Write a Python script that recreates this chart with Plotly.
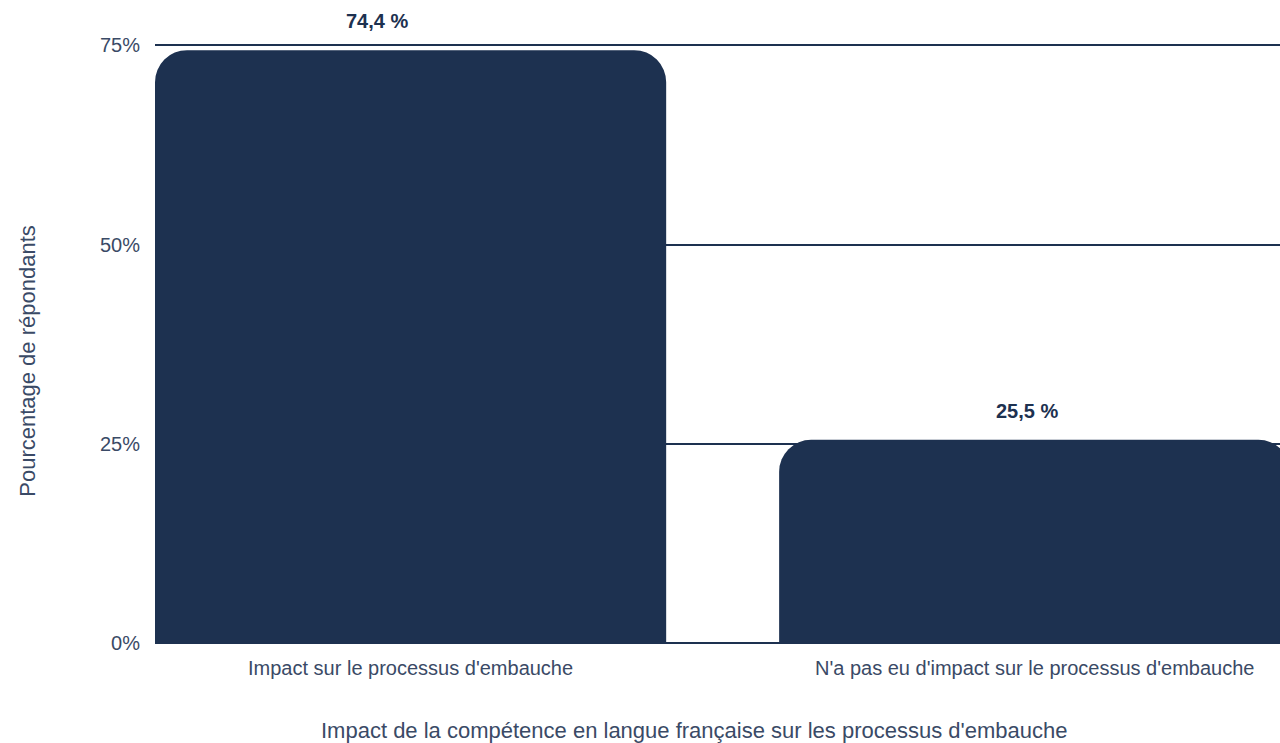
import plotly.graph_objects as go

# Survey results: impact of French-language proficiency on hiring
categories = ["Impact sur le processus d'embauche",
              "N'a pas eu d'impact sur le processus d'embauche"]
values = [74.4, 25.5]
y_ticks = [0, 25, 50, 75]
y_tick_labels = ["0%", "25%", "50%", "75%"]

NAVY = "#1d3150"
TICK_COLOR = "#3a4a66"
FONT = "Liberation Sans, Arial, sans-serif"

fig = go.Figure()
fig.add_trace(go.Bar(
    x=[0, 1],
    y=values,
    width=0.819,
    marker=dict(color=NAVY, line=dict(width=0)),
    hoverinfo="skip",
))

# value labels above each bar, French decimal comma
label_xshift = [-34, -8]
for i, v in enumerate(values):
    fig.add_annotation(
        x=i, y=v, xref="x", yref="y",
        text=f"{v:.1f} %".replace(".", ","),
        showarrow=False, yanchor="bottom", yshift=16, xshift=label_xshift[i],
        font=dict(family=FONT, size=20, color=NAVY, weight="bold"),
    )

# axis titles
fig.add_annotation(
    x=(694 - 155) / 1125, y=-0.145, xref="paper", yref="paper",
    text="Impact de la compétence en langue française sur les processus d'embauche",
    showarrow=False, xanchor="center", yanchor="middle",
    font=dict(family=FONT, size=22, color=TICK_COLOR),
)
fig.add_annotation(
    x=-0.114, y=0.47, xref="paper", yref="paper",
    text="Pourcentage de répondants", textangle=-90,
    showarrow=False, xanchor="center", yanchor="middle",
    font=dict(family=FONT, size=22, color=TICK_COLOR),
)

fig.update_layout(
    width=1280, height=743,
    margin=dict(l=155, r=0, t=43, b=100),
    paper_bgcolor="white", plot_bgcolor="white",
    barcornerradius=32,
    showlegend=False,
    font=dict(family=FONT, size=20, color=TICK_COLOR),
    xaxis=dict(
        range=[-0.4095, 1.393],
        tickmode="array", tickvals=[0, 1], ticktext=categories,
        showgrid=False, zeroline=False, showline=False, ticks="",
        tickfont=dict(family=FONT, size=20, color=TICK_COLOR),
        ticklabelstandoff=11,
    ),
    yaxis=dict(
        range=[0, 75.3],
        tickmode="array", tickvals=y_ticks, ticktext=y_tick_labels,
        showgrid=True, gridcolor=NAVY, gridwidth=2,
        zeroline=True, zerolinecolor=NAVY, zerolinewidth=2,
        showline=False, ticks="",
        tickfont=dict(family=FONT, size=20, color=TICK_COLOR),
        ticklabelstandoff=14,
    ),
)

fig.write_html("out.html")
